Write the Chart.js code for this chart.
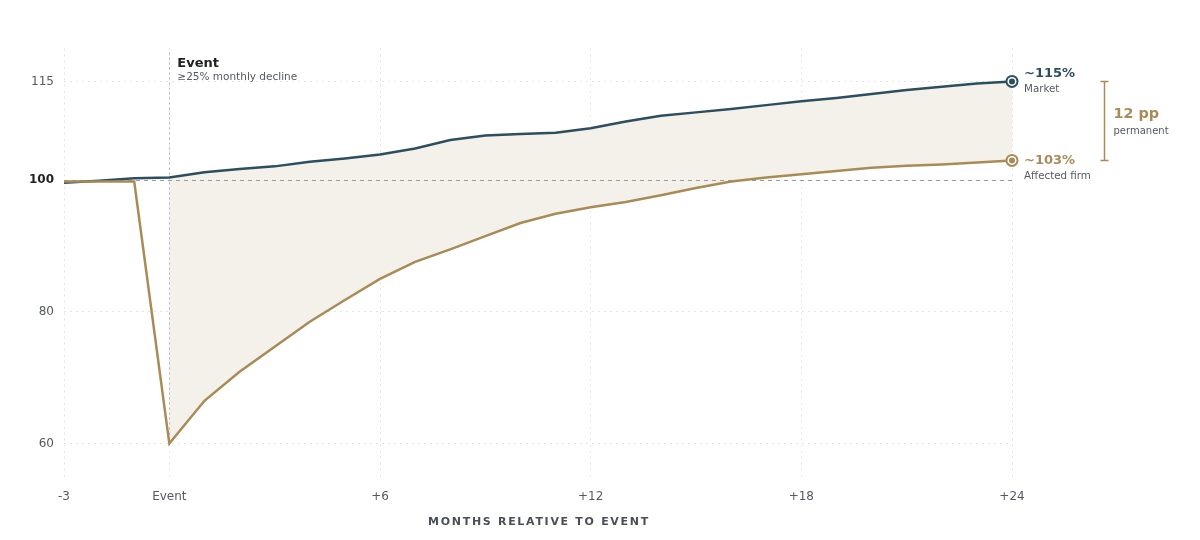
<!DOCTYPE html>
<html>
<head>
<meta charset="utf-8">
<script src="https://cdn.jsdelivr.net/npm/chart.js@4"></script>
<style>
  html, body { margin: 0; padding: 0; background: #fff; }
</style>
</head>
<body>
<canvas id="chart" width="1200" height="540"></canvas>
<script>
// Months relative to the event, one point per month
const months = [-3, -2, -1, 0, 1, 2, 3, 4, 5, 6, 7, 8, 9, 10, 11, 12, 13, 14, 15, 16, 17, 18, 19, 20, 21, 22, 23, 24];

// Indexed value (100 = pre-event level)
const market = [99.6, 99.9, 100.3, 100.4, 101.2, 101.7, 102.1, 102.8, 103.3, 103.9, 104.8, 106.1, 106.8, 107.0, 107.2, 107.9, 108.9, 109.8, 110.3, 110.8, 111.4, 112.0, 112.5, 113.1, 113.7, 114.2, 114.7, 115.0];
const affected = [99.8, 99.8, 99.8, 60.0, 66.5, 70.9, 74.7, 78.5, 81.8, 85.0, 87.6, 89.5, 91.5, 93.5, 94.9, 95.9, 96.7, 97.7, 98.8, 99.8, 100.4, 100.9, 101.4, 101.9, 102.2, 102.4, 102.7, 103.0];

const xTicks = [-3, 0, 6, 12, 18, 24];
const yTicks = [60, 80, 100, 115];

const MARKET_COLOR = "#2d4e61";
const FIRM_COLOR = "#a88b57";
const NOTE_COLOR = "#555a60";
const FONT = "'DejaVu Sans', sans-serif";

// gap between the two lines, only from the event onwards
const gapTop = market.map((v, i) => (months[i] >= 0 ? v : null));
const gapBottom = affected.map((v, i) => (months[i] >= 0 ? v : null));

function toPoints(values) {
  return values.map((v, i) => ({ x: months[i], y: v }));
}

// Reference lines, end markers and annotations
const overlay = {
  id: "overlay",
  beforeDatasetsDraw(chart) {
    const { ctx, chartArea: a, scales: { x, y } } = chart;
    ctx.save();
    ctx.lineWidth = 1;

    // event marker
    const ex = Math.round(x.getPixelForValue(0)) + 0.5;
    ctx.strokeStyle = "#b4b4b4";
    ctx.setLineDash([2, 3]);
    ctx.beginPath();
    ctx.moveTo(ex, a.top + 4);
    ctx.lineTo(ex, y.getPixelForValue(60));
    ctx.stroke();

    // 100 baseline
    const by = Math.floor(y.getPixelForValue(100)) + 0.5;
    ctx.strokeStyle = "#9c9c9c";
    ctx.setLineDash([4, 4]);
    ctx.beginPath();
    ctx.moveTo(a.left, by);
    ctx.lineTo(a.right, by);
    ctx.stroke();
    ctx.restore();
  },
  afterDatasetsDraw(chart) {
    const { ctx, chartArea: a, scales: { x, y } } = chart;
    const last = months.length - 1;
    const px = x.getPixelForValue(months[last]);
    const my = y.getPixelForValue(market[last]);
    const fy = y.getPixelForValue(affected[last]);

    ctx.save();
    // end markers
    [[my, MARKET_COLOR], [fy, FIRM_COLOR]].forEach(([py, col]) => {
      ctx.fillStyle = col;
      ctx.beginPath(); ctx.arc(px, py, 6.5, 0, Math.PI * 2); ctx.fill();
      ctx.fillStyle = "#fff";
      ctx.beginPath(); ctx.arc(px, py, 4.5, 0, Math.PI * 2); ctx.fill();
      ctx.fillStyle = col;
      ctx.beginPath(); ctx.arc(px, py, 3, 0, Math.PI * 2); ctx.fill();
    });

    ctx.textAlign = "left";
    ctx.textBaseline = "middle";

    // end labels
    ctx.fillStyle = MARKET_COLOR;
    ctx.font = "bold 13px " + FONT;
    ctx.fillText("~115%", px + 12, my - 8);
    ctx.fillStyle = NOTE_COLOR;
    ctx.font = "10.3px " + FONT;
    ctx.fillText("Market", px + 12, my + 8);

    ctx.fillStyle = FIRM_COLOR;
    ctx.font = "bold 13px " + FONT;
    ctx.fillText("~103%", px + 12, fy);
    ctx.fillStyle = NOTE_COLOR;
    ctx.font = "10.3px " + FONT;
    ctx.fillText("Affected firm", px + 12, fy + 16);

    // gap bracket
    const bx = px + 92.5;
    ctx.strokeStyle = FIRM_COLOR;
    ctx.lineWidth = 1.5;
    ctx.beginPath();
    ctx.moveTo(bx, my); ctx.lineTo(bx, fy);
    ctx.moveTo(bx - 4, my); ctx.lineTo(bx + 4, my);
    ctx.moveTo(bx - 4, fy); ctx.lineTo(bx + 4, fy);
    ctx.stroke();
    const mid = (my + fy) / 2;
    ctx.fillStyle = FIRM_COLOR;
    ctx.font = "bold 14.4px " + FONT;
    ctx.fillText("12 pp", bx + 9, mid - 7);
    ctx.fillStyle = NOTE_COLOR;
    ctx.font = "10px " + FONT;
    ctx.fillText("permanent", bx + 9, mid + 10);

    // event note
    const ex = x.getPixelForValue(0);
    ctx.fillStyle = "#222";
    ctx.font = "bold 13px " + FONT;
    ctx.fillText("Event", ex + 8, a.top + 15);
    ctx.fillStyle = NOTE_COLOR;
    ctx.font = "10.5px " + FONT;
    ctx.fillText("\u226525% monthly decline", ex + 8, a.top + 29);

    // axis title, letter-spaced
    ctx.fillStyle = "#4a4f57";
    ctx.font = "bold 11px " + FONT;
    ctx.letterSpacing = "1.7px";
    ctx.textAlign = "center";
    ctx.fillText("MONTHS RELATIVE TO EVENT", (a.left + a.right) / 2 + 1, 522);
    ctx.restore();
  }
};

new Chart(document.getElementById("chart"), {
  type: "line",
  data: {
    datasets: [
      {
        label: "Market",
        data: toPoints(market),
        borderColor: MARKET_COLOR,
        borderWidth: 2.5,
        pointRadius: 0,
        tension: 0,
        order: 1
      },
      {
        label: "Affected firm",
        data: toPoints(affected),
        borderColor: FIRM_COLOR,
        borderWidth: 2.5,
        pointRadius: 0,
        tension: 0,
        order: 0
      },
      {
        label: "gapTop",
        data: toPoints(gapTop),
        borderWidth: 0,
        pointRadius: 0,
        backgroundColor: "#f4f1ea",
        fill: "+1",
        order: 3
      },
      {
        label: "gapBottom",
        data: toPoints(gapBottom),
        borderWidth: 0,
        pointRadius: 0,
        fill: false,
        order: 4
      }
    ]
  },
  options: {
    responsive: false,
    animation: false,
    layout: { padding: { top: 48.5, right: 188, left: 0, bottom: 0 } },
    plugins: {
      legend: { display: false },
      tooltip: { enabled: false },
      filler: { drawTime: "beforeDatasetsDraw" }
    },
    scales: {
      x: {
        type: "linear",
        min: -3,
        max: 24,
        afterBuildTicks: (scale) => {
          scale.ticks = xTicks.map((v) => ({ value: v }));
        },
        afterFit: (scale) => { scale.height = 63.5; },
        grid: { color: "#e4e4e4", drawTicks: false },
        border: { display: false, dash: [2, 4] },
        ticks: {
          padding: 13,
          color: NOTE_COLOR,
          font: { family: FONT, size: 12 },
          callback: (v) => (v === 0 ? "Event" : v > 0 ? "+" + v : String(v))
        }
      },
      y: {
        min: 55,
        max: 120,
        afterBuildTicks: (scale) => {
          scale.ticks = yTicks.map((v) => ({ value: v }));
        },
        afterFit: (scale) => { scale.width = 64; },
        grid: {
          color: (c) => (c.tick && c.tick.value === 100 ? "rgba(0,0,0,0)" : "#e4e4e4"),
          drawTicks: false
        },
        border: { display: false, dash: [2, 4] },
        ticks: {
          padding: 10,
          color: (c) => (c.tick && c.tick.value === 100 ? "#222" : NOTE_COLOR),
          font: (c) => ({
            family: FONT,
            size: 12,
            weight: c.tick && c.tick.value === 100 ? "bold" : "normal"
          })
        }
      }
    }
  },
  plugins: [overlay]
});
</script>
</body>
</html>
